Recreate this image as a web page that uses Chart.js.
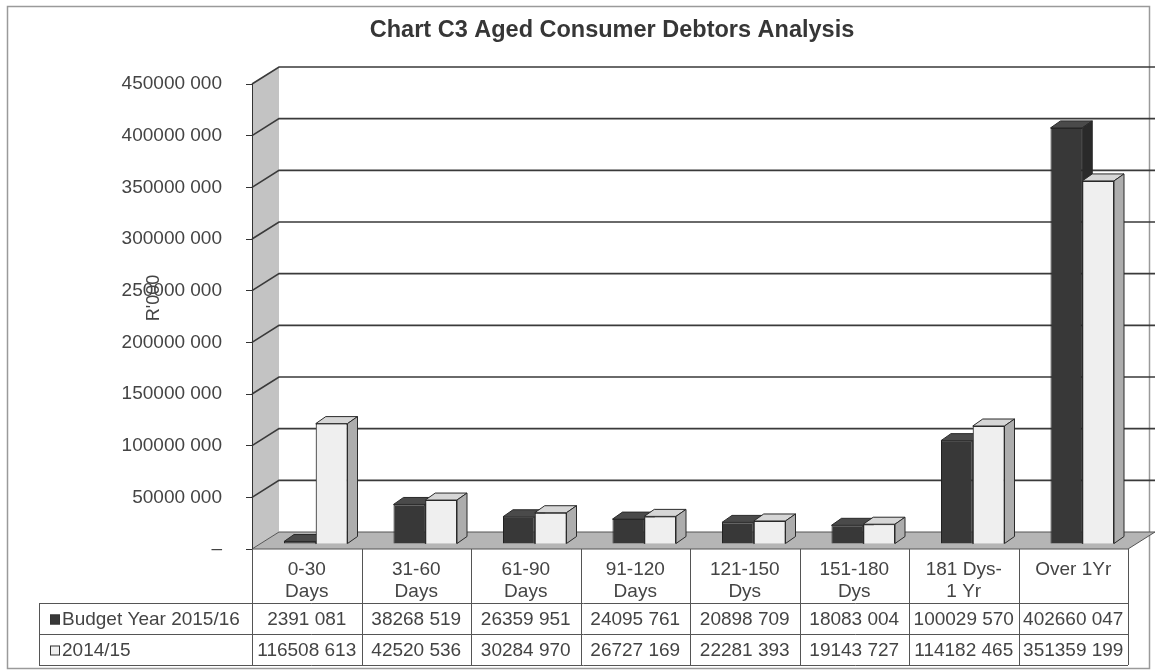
<!DOCTYPE html>
<html>
<head>
<meta charset="utf-8">
<title>Chart C3 Aged Consumer Debtors Analysis</title>
<script src="https://cdn.jsdelivr.net/npm/chart.js@4.4.1/dist/chart.umd.min.js"></script>
<style>
  body { margin: 0; background: #fff; }
  #wrap { width: 1156px; height: 672px; position: relative; }
</style>
</head>
<body>
<div id="wrap"><canvas id="grafico"></canvas></div>
<script>
// categorias (dos lineas por celda en la tabla)
const categories = [["0-30", "Days"], ["31-60", "Days"], ["61-90", "Days"], ["91-120", "Days"],
                    ["121-150", "Dys"], ["151-180", "Dys"], ["181 Dys-", "1 Yr"], ["Over 1Yr"]];
const seriesNames = ["Budget Year 2015/16", "2014/15"];
const budget201516 = [2391081, 38268519, 26359951, 24095761, 20898709, 18083004, 100029570, 402660047];
const year201415 = [116508613, 42520536, 30284970, 26727169, 22281393, 19143727, 114182465, 351359199];
const yMax = 450000000;
const yStep = 50000000;

const FONT = '"Liberation Sans", Arial, sans-serif';
const TEXT = '#444';

// "402660 047" style, zero as a dash
function fmt(v) {
  if (v === 0) return "\u2013";
  const k = Math.floor(v / 1000), r = v % 1000;
  return k + " " + String(r).padStart(3, "0");
}

// wall/floor depth and bar depth
const WALL = { dx: 27, dy: -17 };
const CUBE = { dx: 10, dy: -7 };
const SHIFT = { dx: 9, dy: -5 };

// top and side faces of one bar
function faces(ctx, bar, ds) {
  const p = bar.getProps(['x', 'y', 'base', 'width'], true);
  const l = p.x - p.width / 2, r = p.x + p.width / 2;
  ctx.strokeStyle = '#2a2a2a';
  ctx.lineWidth = 1;
  ctx.fillStyle = ds.topColor;
  ctx.beginPath();
  ctx.moveTo(l, p.y);
  ctx.lineTo(l + CUBE.dx, p.y + CUBE.dy);
  ctx.lineTo(r + CUBE.dx, p.y + CUBE.dy);
  ctx.lineTo(r, p.y);
  ctx.closePath();
  ctx.fill();
  ctx.stroke();
  ctx.fillStyle = ds.sideColor;
  ctx.beginPath();
  ctx.moveTo(r, p.y);
  ctx.lineTo(r + CUBE.dx, p.y + CUBE.dy);
  ctx.lineTo(r + CUBE.dx, p.base + CUBE.dy);
  ctx.lineTo(r, p.base);
  ctx.closePath();
  ctx.fill();
  ctx.stroke();
}

const box3d = {
  id: 'box3d',
  beforeDraw(chart) {
    const { ctx, chartArea: a } = chart;
    const y = chart.scales.y;
    ctx.save();
    ctx.fillStyle = '#fff';
    ctx.fillRect(0, 0, chart.width, chart.height);
    // marco exterior
    ctx.strokeStyle = '#9a9a9a';
    ctx.lineWidth = 1.5;
    ctx.strokeRect(7.5, 6.5, 1142, 662);

    const top = y.getPixelForValue(yMax), bot = y.getPixelForValue(0);
    // pared izquierda
    ctx.fillStyle = '#c3c3c3';
    ctx.beginPath();
    ctx.moveTo(a.left, top);
    ctx.lineTo(a.left + WALL.dx, top + WALL.dy);
    ctx.lineTo(a.left + WALL.dx, bot + WALL.dy);
    ctx.lineTo(a.left, bot);
    ctx.closePath();
    ctx.fill();
    // suelo
    ctx.fillStyle = '#b5b5b5';
    ctx.strokeStyle = '#555';
    ctx.lineWidth = 1;
    ctx.beginPath();
    ctx.moveTo(a.left, bot);
    ctx.lineTo(a.left + WALL.dx, bot + WALL.dy);
    ctx.lineTo(a.right + WALL.dx, bot + WALL.dy);
    ctx.lineTo(a.right, bot);
    ctx.closePath();
    ctx.fill();
    ctx.stroke();
    // lineas de la pared del fondo
    ctx.strokeStyle = '#3a3a3a';
    ctx.lineWidth = 1.6;
    y.ticks.forEach(t => {
      if (t.value === 0) return;
      const py = y.getPixelForValue(t.value);
      ctx.beginPath();
      ctx.moveTo(a.left, py);
      ctx.lineTo(a.left + WALL.dx, py + WALL.dy);
      ctx.lineTo(a.right + WALL.dx, py + WALL.dy);
      ctx.stroke();
    });
    ctx.restore();
  },
  beforeDatasetsDraw(chart) {
    chart.ctx.save();
    chart.ctx.translate(SHIFT.dx, SHIFT.dy);
  },
  afterDatasetsDraw(chart) {
    // caras en orden: barra oscura, luego la clara por delante
    const ctx = chart.ctx;
    const m0 = chart.getDatasetMeta(0), m1 = chart.getDatasetMeta(1);
    const d0 = chart.data.datasets[0], d1 = chart.data.datasets[1];
    m0.data.forEach((bar, i) => {
      faces(ctx, bar, d0);
      m1.data[i].draw(ctx);
      faces(ctx, m1.data[i], d1);
    });
    ctx.restore();
  },
  afterDraw(chart) {
    const { ctx, chartArea: a } = chart;
    const x = chart.scales.x;
    const n = categories.length;
    const colW = (a.right - a.left) / n;
    const tLeft = 39, rowA = 603, rowB = 634, rowC = 665;
    ctx.save();

    // titulo
    ctx.fillStyle = '#363636';
    ctx.font = 'bold 23.5px ' + FONT;
    ctx.textAlign = 'center';
    ctx.textBaseline = 'middle';
    ctx.fillText("Chart C3 Aged Consumer Debtors Analysis", 612, 31);

    // titulo del eje Y
    ctx.save();
    ctx.translate(154, 298);
    ctx.rotate(-Math.PI / 2);
    ctx.font = '18px ' + FONT;
    ctx.fillStyle = TEXT;
    ctx.fillText("R'000", 0, 0);
    ctx.restore();

    // tabla de datos
    ctx.strokeStyle = '#555';
    ctx.lineWidth = 1;
    ctx.beginPath();
    for (let i = 0; i <= n; i++) {
      const px = Math.round(a.left + i * colW) + 0.5;
      ctx.moveTo(px, a.bottom);
      ctx.lineTo(px, rowC);
    }
    [rowA, rowB, rowC].forEach(ry => {
      ctx.moveTo(tLeft, ry + 0.5);
      ctx.lineTo(a.right, ry + 0.5);
    });
    ctx.moveTo(tLeft + 0.5, rowA);
    ctx.lineTo(tLeft + 0.5, rowC);
    ctx.stroke();

    ctx.font = '19px ' + FONT;
    ctx.fillStyle = TEXT;
    ctx.textAlign = 'center';
    categories.forEach((lines, i) => {
      const cx = x.getPixelForValue(i);
      lines.forEach((s, j) => ctx.fillText(s, cx, 570 + j * 22));
      ctx.fillText(fmt(budget201516[i]), cx, (rowA + rowB) / 2 + 1);
      ctx.fillText(fmt(year201415[i]), cx, (rowB + rowC) / 2 + 1);
    });

    // leyenda dentro de la tabla
    ctx.textAlign = 'left';
    chart.data.datasets.forEach((ds, k) => {
      const cy = k === 0 ? (rowA + rowB) / 2 + 1 : (rowB + rowC) / 2 + 1;
      ctx.fillStyle = ds.backgroundColor;
      ctx.fillRect(50, cy - 5, 10, 10);
      ctx.strokeStyle = '#333';
      ctx.strokeRect(50.5, cy - 4.5, 9, 9);
      ctx.fillStyle = TEXT;
      ctx.fillText(ds.label, 62, cy);
    });
    ctx.restore();
  }
};

new Chart("grafico", {
  type: "bar",
  data: {
    labels: categories,
    datasets: [{
      label: seriesNames[0],
      data: budget201516,
      backgroundColor: '#383838',
      topColor: '#4a4a4a',
      sideColor: '#2a2a2a',
      borderColor: '#222',
      borderWidth: 1,
      clip: false
    }, {
      label: seriesNames[1],
      data: year201415,
      backgroundColor: '#efefef',
      topColor: '#d6d6d6',
      sideColor: '#adadad',
      borderColor: '#2a2a2a',
      borderWidth: 1,
      clip: false
    }]
  },
  options: {
    responsive: true,
    maintainAspectRatio: false,
    animation: false,
    devicePixelRatio: 1,
    layout: { padding: { top: 84, left: 0, right: 28, bottom: 123 } },
    datasets: { bar: { categoryPercentage: 0.58, barPercentage: 1.0 } },
    plugins: {
      legend: { display: false },
      title: { display: false },
      tooltip: { enabled: false }
    },
    scales: {
      x: { display: false },
      y: {
        min: 0,
        max: yMax,
        afterFit(scale) { scale.width = 252; },
        ticks: {
          stepSize: yStep,
          padding: 24,
          color: TEXT,
          font: { family: FONT, size: 19 },
          callback: v => fmt(v)
        },
        grid: { drawOnChartArea: false, drawTicks: true, tickLength: 6, color: '#333' },
        border: { display: true, color: '#333', width: 1 }
      }
    }
  },
  plugins: [box3d]
});
</script>
</body>
</html>
